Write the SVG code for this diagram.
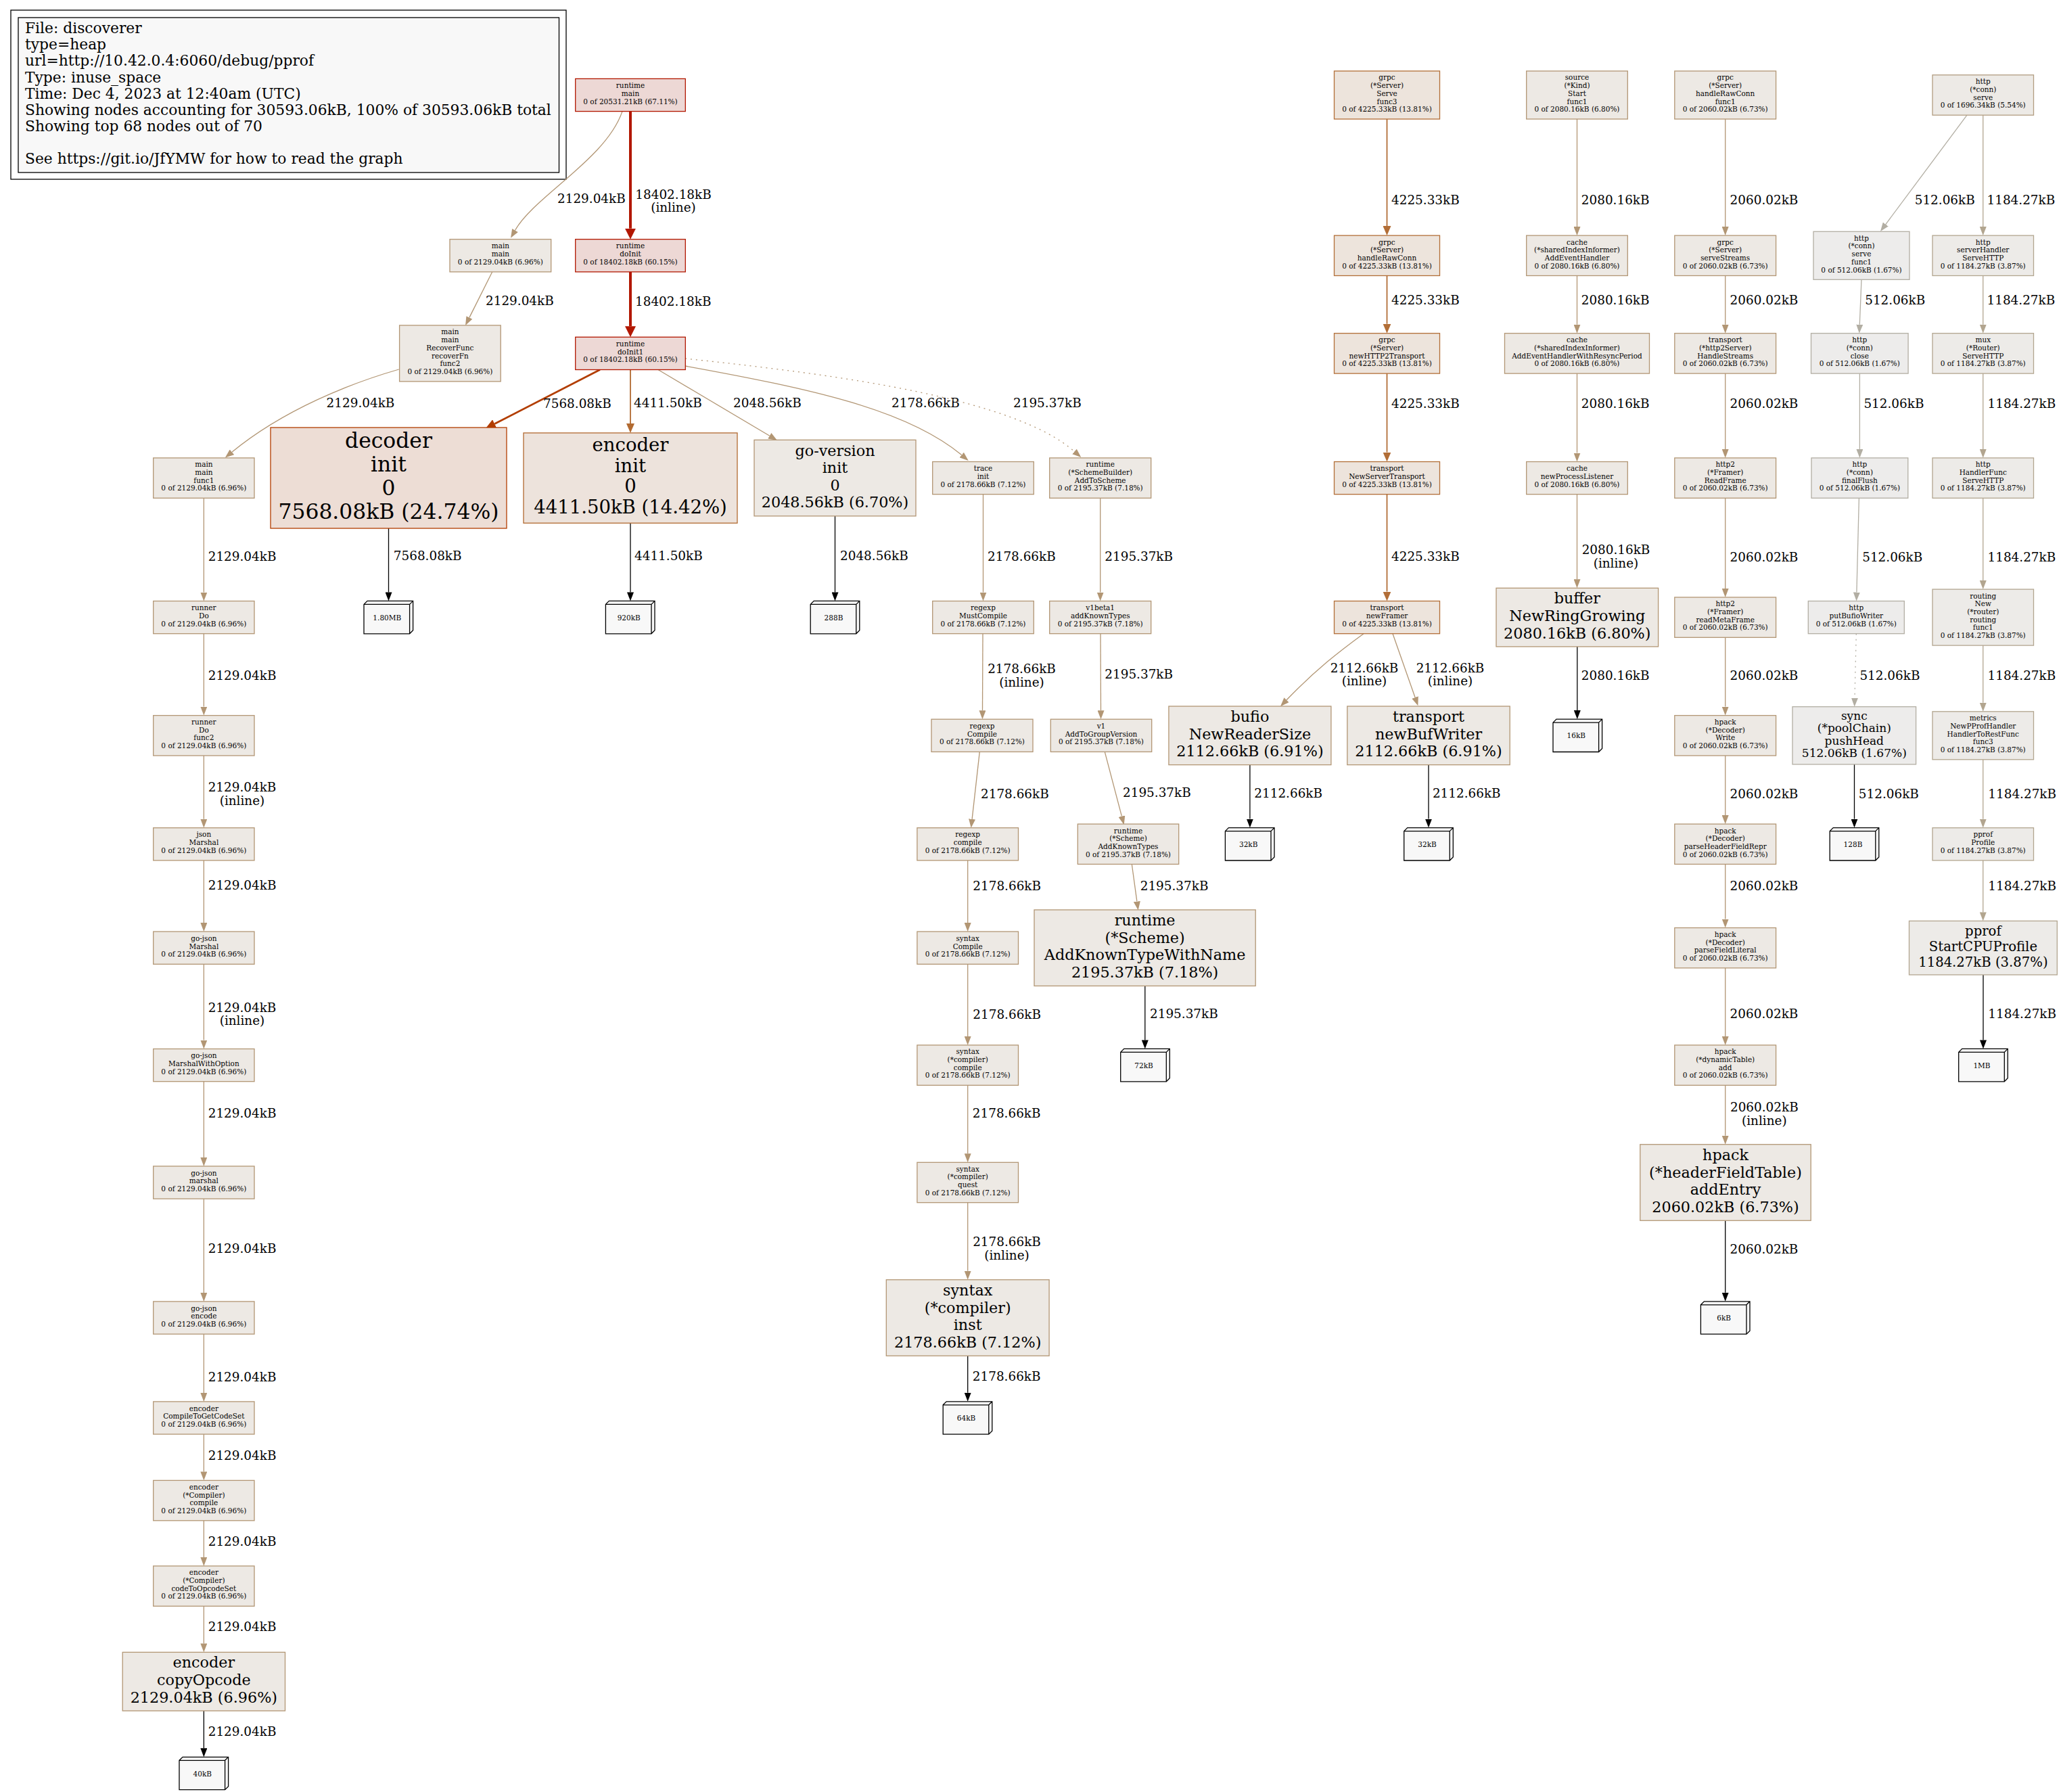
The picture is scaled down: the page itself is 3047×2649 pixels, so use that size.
<svg xmlns="http://www.w3.org/2000/svg" width="3047" height="2649" viewBox="0 0 3047 2649">
<style>
text{font-family:"DejaVu Serif",serif;fill:#000}
.s{font-size:10.5px;text-anchor:middle}
.e{font-size:18.4px}
.em{font-size:18.4px;text-anchor:middle}
.lg{font-size:21.8px}
.b1{font-size:31.4px;text-anchor:middle}
.b2{font-size:27.5px;text-anchor:middle}
.b3{font-size:22.3px;text-anchor:middle}
.b4{font-size:19.65px;text-anchor:middle}
.b5{font-size:17px;text-anchor:middle}
rect,.k{stroke-width:1.3}
.r{fill:#edd8d5;stroke:#b21700}
.d{fill:#edddd5;stroke:#b23d00}
.o{fill:#ede3dc;stroke:#b26a31}
.g{fill:#ede4dc;stroke:#b26e37}
.t{fill:#ede9e4;stroke:#b29674}
.h{fill:#edeae6;stroke:#b29d81}
.l{fill:#edebe8;stroke:#b2a58f}
.y{fill:#edeceb;stroke:#b2aea3}
.k{fill:#f8f8f8;stroke:#000}
#edges path{fill:none}
.cR{stroke:#b21700;stroke-width:4;marker-end:url(#aR)}
.cD{stroke:#b23d00;stroke-width:2.7;marker-end:url(#aD)}
.cO{stroke:#b26a31;stroke-width:1.8;marker-end:url(#aO)}
.cG{stroke:#b26e37;stroke-width:1.8;marker-end:url(#aG)}
.cT{stroke:#b29674;stroke-width:1.3;marker-end:url(#aT)}
.cL{stroke:#b2a58f;stroke-width:1.3;marker-end:url(#aL)}
.cY{stroke:#b2aea3;stroke-width:1.3;marker-end:url(#aY)}
.cK{stroke:#000;stroke-width:1.3;marker-end:url(#aK)}
.dot{stroke-dasharray:2,6}
</style>
<defs>
<marker id="aR" markerUnits="userSpaceOnUse" viewBox="0 -8 16 16" markerWidth="16" markerHeight="16" refX="0" refY="0" orient="auto"><path d="M0,-8L16,0L0,8Z" fill="#b21700"/></marker>
<marker id="aD" markerUnits="userSpaceOnUse" viewBox="0 -7 15 14" markerWidth="15" markerHeight="14" refX="0" refY="0" orient="auto"><path d="M0,-7L15,0L0,7Z" fill="#b23d00"/></marker>
<marker id="aO" markerUnits="userSpaceOnUse" viewBox="0 -6 14 12" markerWidth="14" markerHeight="12" refX="0" refY="0" orient="auto"><path d="M0,-6L14,0L0,6Z" fill="#b26a31"/></marker>
<marker id="aG" markerUnits="userSpaceOnUse" viewBox="0 -6 14 12" markerWidth="14" markerHeight="12" refX="0" refY="0" orient="auto"><path d="M0,-6L14,0L0,6Z" fill="#b26e37"/></marker>
<marker id="aT" markerUnits="userSpaceOnUse" viewBox="0 -5 13 10" markerWidth="13" markerHeight="10" refX="0" refY="0" orient="auto"><path d="M0,-5L13,0L0,5Z" fill="#b29674"/></marker>
<marker id="aL" markerUnits="userSpaceOnUse" viewBox="0 -5 13 10" markerWidth="13" markerHeight="10" refX="0" refY="0" orient="auto"><path d="M0,-5L13,0L0,5Z" fill="#b2a58f"/></marker>
<marker id="aY" markerUnits="userSpaceOnUse" viewBox="0 -5 13 10" markerWidth="13" markerHeight="10" refX="0" refY="0" orient="auto"><path d="M0,-5L13,0L0,5Z" fill="#b2aea3"/></marker>
<marker id="aK" markerUnits="userSpaceOnUse" viewBox="0 -5 13 10" markerWidth="13" markerHeight="10" refX="0" refY="0" orient="auto"><path d="M0,-5L13,0L0,5Z" fill="#000"/></marker>
</defs>
<rect x="0" y="0" width="3047" height="2649" fill="#fff" stroke="none"/>

<g id="legend">
<rect x="16" y="15" width="821" height="250" fill="#fff" stroke="#000"/>
<rect x="27" y="26" width="799.5" height="229" fill="#f8f8f8" stroke="#000"/>
<text class="lg" x="37" y="49.3">File: discoverer</text>
<text class="lg" x="37" y="73.3">type=heap</text>
<text class="lg" x="37" y="97.4">url=http://10.42.0.4:6060/debug/pprof</text>
<text class="lg" x="37" y="121.5">Type: inuse_space</text>
<text class="lg" x="37" y="145.6">Time: Dec 4, 2023 at 12:40am (UTC)</text>
<text class="lg" x="37" y="169.7">Showing nodes accounting for 30593.06kB, 100% of 30593.06kB total</text>
<text class="lg" x="37" y="193.8">Showing top 68 nodes out of 70</text>
<text class="lg" x="37" y="242">See https://git.io/JfYMW for how to read the graph</text>
</g>

<g id="edges">
<g><path class="cR" d="M932,164.6L932,337.7"/><text class="em" x="995.5" y="294.3">18402.18kB</text><text class="em" x="995.5" y="313.3">(inline)</text></g>
<g><path class="cR" d="M932,401.9L932,482.3"/><text class="e" x="939" y="451.7">18402.18kB</text></g>
<g><path class="cD" d="M887,546.5L731.3,626.5"/><text class="e" x="803" y="603">7568.08kB</text></g>
<g><path class="cO" d="M932,546.5L932,626"/><text class="e" x="937" y="602">4411.50kB</text></g>
<g><path class="cT" d="M973,546.5L1137.8,644.3"/><text class="e" x="1084" y="602">2048.56kB</text></g>
<g><path class="cT" d="M1013,541C1200,575 1340,605 1421.7,672.6"/><text class="e" x="1318" y="602">2178.66kB</text></g>
<g><path class="cT dot" d="M1013,530C1250,555 1500,590 1588.5,667.5"/><text class="e" x="1498" y="602">2195.37kB</text></g>
<g><path class="cT" d="M920,164.6C896,235 790,290 761.5,340.5"/><text class="e" x="824" y="300">2129.04kB</text></g>
<g><path class="cT" d="M727.7,402L693.9,469.4"/><text class="e" x="718" y="451">2129.04kB</text></g>
<g><path class="cT" d="M589.7,546C520,566 420,605 342.9,668.3"/><text class="e" x="482.6" y="601.7">2129.04kB</text></g>

<g><path class="cT" d="M301.35,736.3L301.35,875.5"/><text class="e" x="307.7" y="829">2129.04kB</text></g>
<g><path class="cT" d="M301.35,936.7L301.35,1044.6"/><text class="e" x="307.7" y="1004.9">2129.04kB</text></g>
<g><path class="cT" d="M301.35,1117L301.35,1210.7"/><text class="em" x="358" y="1169.6">2129.04kB</text><text class="em" x="358" y="1189.5">(inline)</text></g>
<g><path class="cT" d="M301.35,1271.9L301.35,1364.1"/><text class="e" x="307.7" y="1315">2129.04kB</text></g>
<g><path class="cT" d="M301.35,1425.3L301.35,1537.5"/><text class="em" x="358" y="1495.5">2129.04kB</text><text class="em" x="358" y="1515.3">(inline)</text></g>
<g><path class="cT" d="M301.35,1598.7L301.35,1710.9"/><text class="e" x="307.7" y="1652.4">2129.04kB</text></g>
<g><path class="cT" d="M301.35,1772.1L301.35,1910.9"/><text class="e" x="307.7" y="1852">2129.04kB</text></g>
<g><path class="cT" d="M301.35,1972.1L301.35,2058.9"/><text class="e" x="307.7" y="2042">2129.04kB</text></g>
<g><path class="cT" d="M301.35,2120.1L301.35,2175.4"/><text class="e" x="307.7" y="2158.3">2129.04kB</text></g>
<g><path class="cT" d="M301.35,2247.8L301.35,2301.9"/><text class="e" x="307.7" y="2285.2">2129.04kB</text></g>
<g><path class="cT" d="M301.35,2374.3L301.35,2429.4"/><text class="e" x="307.7" y="2411.4">2129.04kB</text></g>
<g><path class="cK" d="M301.35,2529L301.35,2584.3"/><text class="e" x="307.7" y="2566.1">2129.04kB</text></g>

<g><path class="cK" d="M574.5,781L574.5,875.4"/><text class="e" x="581.8" y="828.3">7568.08kB</text></g>
<g><path class="cK" d="M932,773.25L932,875.4"/><text class="e" x="938" y="828.3">4411.50kB</text></g>
<g><path class="cK" d="M1234.5,762.85L1234.5,875.4"/><text class="e" x="1242" y="828.3">2048.56kB</text></g>

<g><path class="cT" d="M1453.5,730.7L1453.5,875.5"/><text class="e" x="1460" y="829">2178.66kB</text></g>
<g><path class="cT" d="M1453,936.7L1452.5,1050.2"/><text class="em" x="1510.5" y="994.8">2178.66kB</text><text class="em" x="1510.5" y="1015">(inline)</text></g>
<g><path class="cT" d="M1448.3,1111.4L1437.1,1210.9"/><text class="e" x="1450" y="1179.8">2178.66kB</text></g>
<g><path class="cT" d="M1430.7,1271.9L1430.7,1364.1"/><text class="e" x="1438.3" y="1315.6">2178.66kB</text></g>
<g><path class="cT" d="M1430.7,1425.3L1430.7,1531.9"/><text class="e" x="1438.3" y="1506.3">2178.66kB</text></g>
<g><path class="cT" d="M1430.7,1604.3L1430.7,1705.3"/><text class="e" x="1437.8" y="1651.8">2178.66kB</text></g>
<g><path class="cT" d="M1430.7,1777.7L1430.7,1878.75"/><text class="em" x="1488.5" y="1841.5">2178.66kB</text><text class="em" x="1488.5" y="1861.6">(inline)</text></g>
<g><path class="cK" d="M1430.7,2004.25L1430.7,2058.8"/><text class="e" x="1437.8" y="2041">2178.66kB</text></g>

<g><path class="cT" d="M1626.7,736.3L1626.7,875.5"/><text class="e" x="1633.3" y="829">2195.37kB</text></g>
<g><path class="cT" d="M1627,936.7L1627.5,1050.2"/><text class="e" x="1633.3" y="1003">2195.37kB</text></g>
<g><path class="cT" d="M1633.3,1111.4L1658.4,1206.7"/><text class="e" x="1660" y="1178">2195.37kB</text></g>
<g><path class="cT" d="M1673.3,1277.5L1680.9,1332.7"/><text class="e" x="1685.7" y="1315.6">2195.37kB</text></g>
<g><path class="cK" d="M1692.8,1457.45L1692.8,1537.4"/><text class="e" x="1700" y="1505">2195.37kB</text></g>

<g><path class="cG" d="M2050.5,176L2050.5,334.1"/><text class="e" x="2057" y="301.7">4225.33kB</text></g>
<g><path class="cG" d="M2050.5,407.5L2050.5,478.7"/><text class="e" x="2057" y="450">4225.33kB</text></g>
<g><path class="cG" d="M2050.5,552.1L2050.5,668.5"/><text class="e" x="2057" y="602.8">4225.33kB</text></g>
<g><path class="cG" d="M2050.5,730.7L2050.5,874.5"/><text class="e" x="2057" y="829">4225.33kB</text></g>
<g><path class="cT" d="M2016,936.7C1980,963 1945,990 1902,1034.8"/><text class="em" x="2017" y="994.3">2112.66kB</text><text class="em" x="2017" y="1013.3">(inline)</text></g>
<g><path class="cT" d="M2059,936.7L2092.1,1031"/><text class="em" x="2144" y="994.3">2112.66kB</text><text class="em" x="2144" y="1013.3">(inline)</text></g>
<g><path class="cK" d="M1847.9,1130.6L1847.9,1210.6"/><text class="e" x="1854.3" y="1179">2112.66kB</text></g>
<g><path class="cK" d="M2112,1130.6L2112,1210.6"/><text class="e" x="2117.9" y="1179">2112.66kB</text></g>

<g><path class="cT" d="M2331.5,176L2331.5,335.1"/><text class="e" x="2337.8" y="301.7">2080.16kB</text></g>
<g><path class="cT" d="M2331.5,407.5L2331.5,479.7"/><text class="e" x="2337.8" y="450">2080.16kB</text></g>
<g><path class="cT" d="M2331.5,552.1L2331.5,669.5"/><text class="e" x="2337.8" y="602.8">2080.16kB</text></g>
<g><path class="cT" d="M2331.5,730.7L2331.5,856.3"/><text class="em" x="2389" y="819.3">2080.16kB</text><text class="em" x="2389" y="839.4">(inline)</text></g>
<g><path class="cK" d="M2331.8,955.9L2331.8,1050.1"/><text class="e" x="2337.8" y="1004.5">2080.16kB</text></g>

<g><path class="cT" d="M2550.7,176L2550.7,335.1"/><text class="e" x="2557.6" y="301.7">2060.02kB</text></g>
<g><path class="cT" d="M2550.7,407.5L2550.7,479.7"/><text class="e" x="2557.6" y="450">2060.02kB</text></g>
<g><path class="cT" d="M2550.7,552.1L2550.7,663.9"/><text class="e" x="2557.6" y="602.8">2060.02kB</text></g>
<g><path class="cT" d="M2550.7,736.3L2550.7,869.9"/><text class="e" x="2557.6" y="830.4">2060.02kB</text></g>
<g><path class="cT" d="M2550.7,942.3L2550.7,1044.6"/><text class="e" x="2557.6" y="1004.5">2060.02kB</text></g>
<g><path class="cT" d="M2550.7,1117L2550.7,1205.1"/><text class="e" x="2557.6" y="1179.6">2060.02kB</text></g>
<g><path class="cT" d="M2550.7,1277.5L2550.7,1358.5"/><text class="e" x="2557.6" y="1315.6">2060.02kB</text></g>
<g><path class="cT" d="M2550.7,1430.9L2550.7,1531.9"/><text class="e" x="2557.6" y="1505.4">2060.02kB</text></g>
<g><path class="cT" d="M2550.7,1604.3L2550.7,1678.75"/><text class="em" x="2608.3" y="1643.2">2060.02kB</text><text class="em" x="2608.3" y="1663.4">(inline)</text></g>
<g><path class="cK" d="M2550.7,1804.25L2550.7,1910.8"/><text class="e" x="2557.6" y="1853.2">2060.02kB</text></g>

<g><path class="cY" d="M2908,170.2L2787.8,331.6"/><text class="e" x="2830.7" y="301.7">512.06kB</text></g>
<g><path class="cL" d="M2931.75,170.2L2931.75,335.1"/><text class="e" x="2937.5" y="301.7">1184.27kB</text></g>
<g><path class="cY" d="M2752,413.3L2749.3,479.7"/><text class="e" x="2757.2" y="450">512.06kB</text></g>
<g><path class="cL" d="M2931.75,407.5L2931.75,479.7"/><text class="e" x="2937.5" y="450">1184.27kB</text></g>
<g><path class="cY" d="M2749.4,552.1L2749.4,663.9"/><text class="e" x="2755.4" y="602.8">512.06kB</text></g>
<g><path class="cL" d="M2931.75,552.1L2931.75,663.9"/><text class="e" x="2938.5" y="602.8">1184.27kB</text></g>
<g><path class="cY" d="M2748.4,736.3L2744.9,875.5"/><text class="e" x="2753.2" y="830.4">512.06kB</text></g>
<g><path class="cL" d="M2931.75,736.3L2931.75,858.1"/><text class="e" x="2938.5" y="830.4">1184.27kB</text></g>
<g><path class="cY dot" d="M2744.3,936.7L2742,1031.7"/><text class="e" x="2749.4" y="1004.5">512.06kB</text></g>
<g><path class="cL" d="M2931.75,954.1L2931.75,1038.8"/><text class="e" x="2938.5" y="1004.5">1184.27kB</text></g>
<g><path class="cK" d="M2741.5,1129.9L2741.5,1210.6"/><text class="e" x="2747.8" y="1179.6">512.06kB</text></g>
<g><path class="cL" d="M2931.75,1122.8L2931.75,1210.7"/><text class="e" x="2939.3" y="1179.6">1184.27kB</text></g>
<g><path class="cL" d="M2931.75,1271.9L2931.75,1348.4"/><text class="e" x="2939.3" y="1315.6">1184.27kB</text></g>
<g><path class="cK" d="M2932,1441L2932,1537.4"/><text class="e" x="2939.3" y="1505.4">1184.27kB</text></g>
</g>

<g id="n1"><rect class="r" x="850.7" y="116.4" width="162.6" height="48.2"/><text class="s" x="932" y="130.1">runtime<tspan x="932" dy="11.7">main</tspan><tspan x="932" dy="11.7">0 of 20531.21kB (67.11%)</tspan></text></g>
<g id="n2"><rect class="r" x="850.7" y="353.7" width="162.6" height="48.2"/><text class="s" x="932" y="367.4">runtime<tspan x="932" dy="11.7">doInit</tspan><tspan x="932" dy="11.7">0 of 18402.18kB (60.15%)</tspan></text></g>
<g id="n3"><rect class="r" x="850.7" y="498.3" width="162.6" height="48.2"/><text class="s" x="932" y="512">runtime<tspan x="932" dy="11.7">doInit1</tspan><tspan x="932" dy="11.7">0 of 18402.18kB (60.15%)</tspan></text></g>
<g id="n4"><rect class="t" x="665" y="353.7" width="149.7" height="48.2"/><text class="s" x="739.85" y="367.4">main<tspan x="739.85" dy="11.7">main</tspan><tspan x="739.85" dy="11.7">0 of 2129.04kB (6.96%)</tspan></text></g>
<g id="n5"><rect class="t" x="590.6" y="480.9" width="149.6" height="83"/><text class="s" x="665.4" y="494.45">main<tspan x="665.4" dy="11.7">main</tspan><tspan x="665.4" dy="11.7">RecoverFunc</tspan><tspan x="665.4" dy="11.7">recoverFn</tspan><tspan x="665.4" dy="11.7">func2</tspan><tspan x="665.4" dy="11.7">0 of 2129.04kB (6.96%)</tspan></text></g>
<g id="n6"><rect class="t" x="226.7" y="676.9" width="149.3" height="59.4"/><text class="s" x="301.35" y="690.35">main<tspan x="301.35" dy="11.7">main</tspan><tspan x="301.35" dy="11.7">func1</tspan><tspan x="301.35" dy="11.7">0 of 2129.04kB (6.96%)</tspan></text></g>
<g id="n7"><rect class="t" x="226.7" y="888.5" width="149.3" height="48.2"/><text class="s" x="301.35" y="902.2">runner<tspan x="301.35" dy="11.7">Do</tspan><tspan x="301.35" dy="11.7">0 of 2129.04kB (6.96%)</tspan></text></g>
<g id="n8"><rect class="t" x="226.7" y="1057.6" width="149.3" height="59.4"/><text class="s" x="301.35" y="1071.05">runner<tspan x="301.35" dy="11.7">Do</tspan><tspan x="301.35" dy="11.7">func2</tspan><tspan x="301.35" dy="11.7">0 of 2129.04kB (6.96%)</tspan></text></g>
<g id="n9"><rect class="t" x="226.7" y="1223.7" width="149.3" height="48.2"/><text class="s" x="301.35" y="1237.4">json<tspan x="301.35" dy="11.7">Marshal</tspan><tspan x="301.35" dy="11.7">0 of 2129.04kB (6.96%)</tspan></text></g>
<g id="n10"><rect class="t" x="226.7" y="1377.1" width="149.3" height="48.2"/><text class="s" x="301.35" y="1390.8">go-json<tspan x="301.35" dy="11.7">Marshal</tspan><tspan x="301.35" dy="11.7">0 of 2129.04kB (6.96%)</tspan></text></g>
<g id="n11"><rect class="t" x="226.7" y="1550.5" width="149.3" height="48.2"/><text class="s" x="301.35" y="1564.2">go-json<tspan x="301.35" dy="11.7">MarshalWithOption</tspan><tspan x="301.35" dy="11.7">0 of 2129.04kB (6.96%)</tspan></text></g>
<g id="n12"><rect class="t" x="226.7" y="1723.9" width="149.3" height="48.2"/><text class="s" x="301.35" y="1737.6">go-json<tspan x="301.35" dy="11.7">marshal</tspan><tspan x="301.35" dy="11.7">0 of 2129.04kB (6.96%)</tspan></text></g>
<g id="n13"><rect class="t" x="226.7" y="1923.9" width="149.3" height="48.2"/><text class="s" x="301.35" y="1937.6">go-json<tspan x="301.35" dy="11.7">encode</tspan><tspan x="301.35" dy="11.7">0 of 2129.04kB (6.96%)</tspan></text></g>
<g id="n14"><rect class="t" x="226.7" y="2071.9" width="149.3" height="48.2"/><text class="s" x="301.35" y="2085.6">encoder<tspan x="301.35" dy="11.7">CompileToGetCodeSet</tspan><tspan x="301.35" dy="11.7">0 of 2129.04kB (6.96%)</tspan></text></g>
<g id="n15"><rect class="t" x="226.7" y="2188.4" width="149.3" height="59.4"/><text class="s" x="301.35" y="2201.85">encoder<tspan x="301.35" dy="11.7">(*Compiler)</tspan><tspan x="301.35" dy="11.7">compile</tspan><tspan x="301.35" dy="11.7">0 of 2129.04kB (6.96%)</tspan></text></g>
<g id="n16"><rect class="t" x="226.7" y="2314.9" width="149.3" height="59.4"/><text class="s" x="301.35" y="2328.35">encoder<tspan x="301.35" dy="11.7">(*Compiler)</tspan><tspan x="301.35" dy="11.7">codeToOpcodeSet</tspan><tspan x="301.35" dy="11.7">0 of 2129.04kB (6.96%)</tspan></text></g>
<g id="n17"><rect class="t" x="181.2" y="2442.4" width="240.3" height="86.6"/><text class="b3" x="301.35" y="2465.45">encoder<tspan x="301.35" dy="25.6">copyOpcode</tspan><tspan x="301.35" dy="25.6">2129.04kB (6.96%)</tspan></text></g>
<g id="n18"><rect class="d" x="400" y="632" width="349" height="149"/><text class="b1" x="574.5" y="661.6">decoder<tspan x="574.5" dy="35">init</tspan><tspan x="574.5" dy="35">0</tspan><tspan x="574.5" dy="35">7568.08kB (24.74%)</tspan></text></g>
<g id="n19"><rect class="o" x="774" y="639.95" width="316" height="133.3"/><text class="b2" x="932" y="667.45">encoder<tspan x="932" dy="30.5">init</tspan><tspan x="932" dy="30.5">0</tspan><tspan x="932" dy="30.5">4411.50kB (14.42%)</tspan></text></g>
<g id="n20"><rect class="t" x="1115" y="650.35" width="239" height="112.5"/><text class="b3" x="1234.5" y="673.55">go-version<tspan x="1234.5" dy="25.6">init</tspan><tspan x="1234.5" dy="25.6">0</tspan><tspan x="1234.5" dy="25.6">2048.56kB (6.70%)</tspan></text></g>
<g id="n21"><rect class="t" x="1378.7" y="682.5" width="149.6" height="48.2"/><text class="s" x="1453.5" y="696.2">trace<tspan x="1453.5" dy="11.7">init</tspan><tspan x="1453.5" dy="11.7">0 of 2178.66kB (7.12%)</tspan></text></g>
<g id="n22"><rect class="t" x="1378.7" y="888.5" width="149.6" height="48.2"/><text class="s" x="1453.5" y="902.2">regexp<tspan x="1453.5" dy="11.7">MustCompile</tspan><tspan x="1453.5" dy="11.7">0 of 2178.66kB (7.12%)</tspan></text></g>
<g id="n23"><rect class="t" x="1377" y="1063.2" width="150" height="48.2"/><text class="s" x="1452" y="1076.9">regexp<tspan x="1452" dy="11.7">Compile</tspan><tspan x="1452" dy="11.7">0 of 2178.66kB (7.12%)</tspan></text></g>
<g id="n24"><rect class="t" x="1355.9" y="1223.7" width="149.6" height="48.2"/><text class="s" x="1430.7" y="1237.4">regexp<tspan x="1430.7" dy="11.7">compile</tspan><tspan x="1430.7" dy="11.7">0 of 2178.66kB (7.12%)</tspan></text></g>
<g id="n25"><rect class="t" x="1355.9" y="1377.1" width="149.6" height="48.2"/><text class="s" x="1430.7" y="1390.8">syntax<tspan x="1430.7" dy="11.7">Compile</tspan><tspan x="1430.7" dy="11.7">0 of 2178.66kB (7.12%)</tspan></text></g>
<g id="n26"><rect class="t" x="1355.9" y="1544.9" width="149.6" height="59.4"/><text class="s" x="1430.7" y="1558.35">syntax<tspan x="1430.7" dy="11.7">(*compiler)</tspan><tspan x="1430.7" dy="11.7">compile</tspan><tspan x="1430.7" dy="11.7">0 of 2178.66kB (7.12%)</tspan></text></g>
<g id="n27"><rect class="t" x="1355.9" y="1718.3" width="149.6" height="59.4"/><text class="s" x="1430.7" y="1731.75">syntax<tspan x="1430.7" dy="11.7">(*compiler)</tspan><tspan x="1430.7" dy="11.7">quest</tspan><tspan x="1430.7" dy="11.7">0 of 2178.66kB (7.12%)</tspan></text></g>
<g id="n28"><rect class="t" x="1310.3" y="1891.75" width="240.8" height="112.5"/><text class="b3" x="1430.7" y="1914.95">syntax<tspan x="1430.7" dy="25.6">(*compiler)</tspan><tspan x="1430.7" dy="25.6">inst</tspan><tspan x="1430.7" dy="25.6">2178.66kB (7.12%)</tspan></text></g>
<g id="n29"><rect class="t" x="1551.7" y="676.9" width="150" height="59.4"/><text class="s" x="1626.7" y="690.35">runtime<tspan x="1626.7" dy="11.7">(*SchemeBuilder)</tspan><tspan x="1626.7" dy="11.7">AddToScheme</tspan><tspan x="1626.7" dy="11.7">0 of 2195.37kB (7.18%)</tspan></text></g>
<g id="n30"><rect class="t" x="1551.7" y="888.5" width="150" height="48.2"/><text class="s" x="1626.7" y="902.2">v1beta1<tspan x="1626.7" dy="11.7">addKnownTypes</tspan><tspan x="1626.7" dy="11.7">0 of 2195.37kB (7.18%)</tspan></text></g>
<g id="n31"><rect class="t" x="1553.3" y="1063.2" width="149.4" height="48.2"/><text class="s" x="1628" y="1076.9">v1<tspan x="1628" dy="11.7">AddToGroupVersion</tspan><tspan x="1628" dy="11.7">0 of 2195.37kB (7.18%)</tspan></text></g>
<g id="n32"><rect class="t" x="1593.3" y="1218.1" width="149.4" height="59.4"/><text class="s" x="1668" y="1231.55">runtime<tspan x="1668" dy="11.7">(*Scheme)</tspan><tspan x="1668" dy="11.7">AddKnownTypes</tspan><tspan x="1668" dy="11.7">0 of 2195.37kB (7.18%)</tspan></text></g>
<g id="n33"><rect class="t" x="1529" y="1344.95" width="327.2" height="112.5"/><text class="b3" x="1692.6" y="1368.15">runtime<tspan x="1692.6" dy="25.6">(*Scheme)</tspan><tspan x="1692.6" dy="25.6">AddKnownTypeWithName</tspan><tspan x="1692.6" dy="25.6">2195.37kB (7.18%)</tspan></text></g>
<g id="n34"><rect class="g" x="1972.5" y="105" width="156" height="71"/><text class="s" x="2050.5" y="118.4">grpc<tspan x="2050.5" dy="11.7">(*Server)</tspan><tspan x="2050.5" dy="11.7">Serve</tspan><tspan x="2050.5" dy="11.7">func3</tspan><tspan x="2050.5" dy="11.7">0 of 4225.33kB (13.81%)</tspan></text></g>
<g id="n35"><rect class="g" x="1972.5" y="348.1" width="156" height="59.4"/><text class="s" x="2050.5" y="361.55">grpc<tspan x="2050.5" dy="11.7">(*Server)</tspan><tspan x="2050.5" dy="11.7">handleRawConn</tspan><tspan x="2050.5" dy="11.7">0 of 4225.33kB (13.81%)</tspan></text></g>
<g id="n36"><rect class="g" x="1972.5" y="492.7" width="156" height="59.4"/><text class="s" x="2050.5" y="506.15">grpc<tspan x="2050.5" dy="11.7">(*Server)</tspan><tspan x="2050.5" dy="11.7">newHTTP2Transport</tspan><tspan x="2050.5" dy="11.7">0 of 4225.33kB (13.81%)</tspan></text></g>
<g id="n37"><rect class="g" x="1972.5" y="682.5" width="156" height="48.2"/><text class="s" x="2050.5" y="696.2">transport<tspan x="2050.5" dy="11.7">NewServerTransport</tspan><tspan x="2050.5" dy="11.7">0 of 4225.33kB (13.81%)</tspan></text></g>
<g id="n38"><rect class="g" x="1972.5" y="888.5" width="156" height="48.2"/><text class="s" x="2050.5" y="902.2">transport<tspan x="2050.5" dy="11.7">newFramer</tspan><tspan x="2050.5" dy="11.7">0 of 4225.33kB (13.81%)</tspan></text></g>
<g id="n39"><rect class="t" x="1727.9" y="1044" width="240" height="86.6"/><text class="b3" x="1847.9" y="1067.05">bufio<tspan x="1847.9" dy="25.6">NewReaderSize</tspan><tspan x="1847.9" dy="25.6">2112.66kB (6.91%)</tspan></text></g>
<g id="n40"><rect class="t" x="1991.8" y="1044" width="240.4" height="86.6"/><text class="b3" x="2112" y="1067.05">transport<tspan x="2112" dy="25.6">newBufWriter</tspan><tspan x="2112" dy="25.6">2112.66kB (6.91%)</tspan></text></g>
<g id="n41"><rect class="t" x="2256.7" y="105" width="149.6" height="71"/><text class="s" x="2331.5" y="118.4">source<tspan x="2331.5" dy="11.7">(*Kind)</tspan><tspan x="2331.5" dy="11.7">Start</tspan><tspan x="2331.5" dy="11.7">func1</tspan><tspan x="2331.5" dy="11.7">0 of 2080.16kB (6.80%)</tspan></text></g>
<g id="n42"><rect class="t" x="2256.7" y="348.1" width="149.6" height="59.4"/><text class="s" x="2331.5" y="361.55">cache<tspan x="2331.5" dy="11.7">(*sharedIndexInformer)</tspan><tspan x="2331.5" dy="11.7">AddEventHandler</tspan><tspan x="2331.5" dy="11.7">0 of 2080.16kB (6.80%)</tspan></text></g>
<g id="n43"><rect class="t" x="2224.5" y="492.7" width="214" height="59.4"/><text class="s" x="2331.5" y="506.15">cache<tspan x="2331.5" dy="11.7">(*sharedIndexInformer)</tspan><tspan x="2331.5" dy="11.7">AddEventHandlerWithResyncPeriod</tspan><tspan x="2331.5" dy="11.7">0 of 2080.16kB (6.80%)</tspan></text></g>
<g id="n44"><rect class="t" x="2256.7" y="682.5" width="149.6" height="48.2"/><text class="s" x="2331.5" y="696.2">cache<tspan x="2331.5" dy="11.7">newProcessListener</tspan><tspan x="2331.5" dy="11.7">0 of 2080.16kB (6.80%)</tspan></text></g>
<g id="n45"><rect class="t" x="2212" y="869.3" width="239.6" height="86.6"/><text class="b3" x="2331.8" y="892.35">buffer<tspan x="2331.8" dy="25.6">NewRingGrowing</tspan><tspan x="2331.8" dy="25.6">2080.16kB (6.80%)</tspan></text></g>
<g id="n46"><rect class="t" x="2475.8" y="105" width="149.8" height="71"/><text class="s" x="2550.7" y="118.4">grpc<tspan x="2550.7" dy="11.7">(*Server)</tspan><tspan x="2550.7" dy="11.7">handleRawConn</tspan><tspan x="2550.7" dy="11.7">func1</tspan><tspan x="2550.7" dy="11.7">0 of 2060.02kB (6.73%)</tspan></text></g>
<g id="n47"><rect class="t" x="2475.8" y="348.1" width="149.8" height="59.4"/><text class="s" x="2550.7" y="361.55">grpc<tspan x="2550.7" dy="11.7">(*Server)</tspan><tspan x="2550.7" dy="11.7">serveStreams</tspan><tspan x="2550.7" dy="11.7">0 of 2060.02kB (6.73%)</tspan></text></g>
<g id="n48"><rect class="t" x="2475.8" y="492.7" width="149.8" height="59.4"/><text class="s" x="2550.7" y="506.15">transport<tspan x="2550.7" dy="11.7">(*http2Server)</tspan><tspan x="2550.7" dy="11.7">HandleStreams</tspan><tspan x="2550.7" dy="11.7">0 of 2060.02kB (6.73%)</tspan></text></g>
<g id="n49"><rect class="t" x="2475.8" y="676.9" width="149.8" height="59.4"/><text class="s" x="2550.7" y="690.35">http2<tspan x="2550.7" dy="11.7">(*Framer)</tspan><tspan x="2550.7" dy="11.7">ReadFrame</tspan><tspan x="2550.7" dy="11.7">0 of 2060.02kB (6.73%)</tspan></text></g>
<g id="n50"><rect class="t" x="2475.8" y="882.9" width="149.8" height="59.4"/><text class="s" x="2550.7" y="896.35">http2<tspan x="2550.7" dy="11.7">(*Framer)</tspan><tspan x="2550.7" dy="11.7">readMetaFrame</tspan><tspan x="2550.7" dy="11.7">0 of 2060.02kB (6.73%)</tspan></text></g>
<g id="n51"><rect class="t" x="2475.8" y="1057.6" width="149.8" height="59.4"/><text class="s" x="2550.7" y="1071.05">hpack<tspan x="2550.7" dy="11.7">(*Decoder)</tspan><tspan x="2550.7" dy="11.7">Write</tspan><tspan x="2550.7" dy="11.7">0 of 2060.02kB (6.73%)</tspan></text></g>
<g id="n52"><rect class="t" x="2475.8" y="1218.1" width="149.8" height="59.4"/><text class="s" x="2550.7" y="1231.55">hpack<tspan x="2550.7" dy="11.7">(*Decoder)</tspan><tspan x="2550.7" dy="11.7">parseHeaderFieldRepr</tspan><tspan x="2550.7" dy="11.7">0 of 2060.02kB (6.73%)</tspan></text></g>
<g id="n53"><rect class="t" x="2475.8" y="1371.5" width="149.8" height="59.4"/><text class="s" x="2550.7" y="1384.95">hpack<tspan x="2550.7" dy="11.7">(*Decoder)</tspan><tspan x="2550.7" dy="11.7">parseFieldLiteral</tspan><tspan x="2550.7" dy="11.7">0 of 2060.02kB (6.73%)</tspan></text></g>
<g id="n54"><rect class="t" x="2475.8" y="1544.9" width="149.8" height="59.4"/><text class="s" x="2550.7" y="1558.35">hpack<tspan x="2550.7" dy="11.7">(*dynamicTable)</tspan><tspan x="2550.7" dy="11.7">add</tspan><tspan x="2550.7" dy="11.7">0 of 2060.02kB (6.73%)</tspan></text></g>
<g id="n55"><rect class="t" x="2424.8" y="1691.75" width="252.4" height="112.5"/><text class="b3" x="2551" y="1714.95">hpack<tspan x="2551" dy="25.6">(*headerFieldTable)</tspan><tspan x="2551" dy="25.6">addEntry</tspan><tspan x="2551" dy="25.6">2060.02kB (6.73%)</tspan></text></g>
<g id="n56"><rect class="h" x="2857" y="110.8" width="149.5" height="59.4"/><text class="s" x="2931.75" y="124.25">http<tspan x="2931.75" dy="11.7">(*conn)</tspan><tspan x="2931.75" dy="11.7">serve</tspan><tspan x="2931.75" dy="11.7">0 of 1696.34kB (5.54%)</tspan></text></g>
<g id="n57"><rect class="y" x="2681" y="342.3" width="142" height="71"/><text class="s" x="2752" y="355.7">http<tspan x="2752" dy="11.7">(*conn)</tspan><tspan x="2752" dy="11.7">serve</tspan><tspan x="2752" dy="11.7">func1</tspan><tspan x="2752" dy="11.7">0 of 512.06kB (1.67%)</tspan></text></g>
<g id="n58"><rect class="l" x="2857" y="348.1" width="149.5" height="59.4"/><text class="s" x="2931.75" y="361.55">http<tspan x="2931.75" dy="11.7">serverHandler</tspan><tspan x="2931.75" dy="11.7">ServeHTTP</tspan><tspan x="2931.75" dy="11.7">0 of 1184.27kB (3.87%)</tspan></text></g>
<g id="n59"><rect class="y" x="2677.5" y="492.7" width="143.6" height="59.4"/><text class="s" x="2749.3" y="506.15">http<tspan x="2749.3" dy="11.7">(*conn)</tspan><tspan x="2749.3" dy="11.7">close</tspan><tspan x="2749.3" dy="11.7">0 of 512.06kB (1.67%)</tspan></text></g>
<g id="n60"><rect class="l" x="2857" y="492.7" width="149.5" height="59.4"/><text class="s" x="2931.75" y="506.15">mux<tspan x="2931.75" dy="11.7">(*Router)</tspan><tspan x="2931.75" dy="11.7">ServeHTTP</tspan><tspan x="2931.75" dy="11.7">0 of 1184.27kB (3.87%)</tspan></text></g>
<g id="n61"><rect class="y" x="2678" y="676.9" width="142.8" height="59.4"/><text class="s" x="2749.4" y="690.35">http<tspan x="2749.4" dy="11.7">(*conn)</tspan><tspan x="2749.4" dy="11.7">finalFlush</tspan><tspan x="2749.4" dy="11.7">0 of 512.06kB (1.67%)</tspan></text></g>
<g id="n62"><rect class="l" x="2857" y="676.9" width="149.5" height="59.4"/><text class="s" x="2931.75" y="690.35">http<tspan x="2931.75" dy="11.7">HandlerFunc</tspan><tspan x="2931.75" dy="11.7">ServeHTTP</tspan><tspan x="2931.75" dy="11.7">0 of 1184.27kB (3.87%)</tspan></text></g>
<g id="n63"><rect class="y" x="2673.3" y="888.5" width="142" height="48.2"/><text class="s" x="2744.3" y="902.2">http<tspan x="2744.3" dy="11.7">putBufioWriter</tspan><tspan x="2744.3" dy="11.7">0 of 512.06kB (1.67%)</tspan></text></g>
<g id="n64"><rect class="l" x="2857" y="871.1" width="149.5" height="83"/><text class="s" x="2931.75" y="884.65">routing<tspan x="2931.75" dy="11.7">New</tspan><tspan x="2931.75" dy="11.7">(*router)</tspan><tspan x="2931.75" dy="11.7">routing</tspan><tspan x="2931.75" dy="11.7">func1</tspan><tspan x="2931.75" dy="11.7">0 of 1184.27kB (3.87%)</tspan></text></g>
<g id="n65"><rect class="y" x="2650" y="1044.7" width="182.6" height="85.2"/><text class="b5" x="2741.3" y="1064.1">sync<tspan x="2741.3" dy="18.2">(*poolChain)</tspan><tspan x="2741.3" dy="18.2">pushHead</tspan><tspan x="2741.3" dy="18.2">512.06kB (1.67%)</tspan></text></g>
<g id="n66"><rect class="l" x="2857" y="1051.8" width="149.5" height="71"/><text class="s" x="2931.75" y="1065.2">metrics<tspan x="2931.75" dy="11.7">NewPProfHandler</tspan><tspan x="2931.75" dy="11.7">HandlerToRestFunc</tspan><tspan x="2931.75" dy="11.7">func3</tspan><tspan x="2931.75" dy="11.7">0 of 1184.27kB (3.87%)</tspan></text></g>
<g id="n67"><rect class="l" x="2857" y="1223.7" width="149.5" height="48.2"/><text class="s" x="2931.75" y="1237.4">pprof<tspan x="2931.75" dy="11.7">Profile</tspan><tspan x="2931.75" dy="11.7">0 of 1184.27kB (3.87%)</tspan></text></g>
<g id="n68"><rect class="l" x="2822.5" y="1361.4" width="218.8" height="79.6"/><text class="b4" x="2931.9" y="1382.9">pprof<tspan x="2931.9" dy="23">StartCPUProfile</tspan><tspan x="2931.9" dy="23">1184.27kB (3.87%)</tspan></text></g>

<g id="leaf1"><path class="k" d="M538,893.4L543,888.4L610.6,888.4L610.6,931.8L605.6,936.8L538,936.8ZM605.6,893.4L538,893.4M605.6,893.4L605.6,936.8M605.6,893.4L610.6,888.4"/><text class="s" x="572.3" y="916.6">1.80MB</text></g>
<g id="leaf2"><path class="k" d="M895.4,893.4L900.4,888.4L968,888.4L968,931.8L963,936.8L895.4,936.8ZM963,893.4L895.4,893.4M963,893.4L963,936.8M963,893.4L968,888.4"/><text class="s" x="929.7" y="916.6">920kB</text></g>
<g id="leaf3"><path class="k" d="M1198.2,893.4L1203.2,888.4L1270.8,888.4L1270.8,931.8L1265.8,936.8L1198.2,936.8ZM1265.8,893.4L1198.2,893.4M1265.8,893.4L1265.8,936.8M1265.8,893.4L1270.8,888.4"/><text class="s" x="1232.5" y="916.6">288B</text></g>
<g id="leaf4"><path class="k" d="M1394.2,2076.8L1399.2,2071.8L1466.8,2071.8L1466.8,2115.2L1461.8,2120.2L1394.2,2120.2ZM1461.8,2076.8L1394.2,2076.8M1461.8,2076.8L1461.8,2120.2M1461.8,2076.8L1466.8,2071.8"/><text class="s" x="1428.5" y="2100">64kB</text></g>
<g id="leaf5"><path class="k" d="M1656.7,1555.4L1661.7,1550.4L1729.3,1550.4L1729.3,1593.8L1724.3,1598.8L1656.7,1598.8ZM1724.3,1555.4L1656.7,1555.4M1724.3,1555.4L1724.3,1598.8M1724.3,1555.4L1729.3,1550.4"/><text class="s" x="1691" y="1578.6">72kB</text></g>
<g id="leaf6"><path class="k" d="M1811.4,1228.6L1816.4,1223.6L1884,1223.6L1884,1267L1879,1272L1811.4,1272ZM1879,1228.6L1811.4,1228.6M1879,1228.6L1879,1272M1879,1228.6L1884,1223.6"/><text class="s" x="1845.7" y="1251.8">32kB</text></g>
<g id="leaf7"><path class="k" d="M2075.7,1228.6L2080.7,1223.6L2148.3,1223.6L2148.3,1267L2143.3,1272L2075.7,1272ZM2143.3,1228.6L2075.7,1228.6M2143.3,1228.6L2143.3,1272M2143.3,1228.6L2148.3,1223.6"/><text class="s" x="2110" y="1251.8">32kB</text></g>
<g id="leaf8"><path class="k" d="M2296,1068.1L2301,1063.1L2368.6,1063.1L2368.6,1106.5L2363.6,1111.5L2296,1111.5ZM2363.6,1068.1L2296,1068.1M2363.6,1068.1L2363.6,1111.5M2363.6,1068.1L2368.6,1063.1"/><text class="s" x="2330.3" y="1091.3">16kB</text></g>
<g id="leaf9"><path class="k" d="M2705.2,1228.6L2710.2,1223.6L2777.8,1223.6L2777.8,1267L2772.8,1272L2705.2,1272ZM2772.8,1228.6L2705.2,1228.6M2772.8,1228.6L2772.8,1272M2772.8,1228.6L2777.8,1223.6"/><text class="s" x="2739.5" y="1251.8">128B</text></g>
<g id="leaf10"><path class="k" d="M2895.7,1555.4L2900.7,1550.4L2968.3,1550.4L2968.3,1593.8L2963.3,1598.8L2895.7,1598.8ZM2963.3,1555.4L2895.7,1555.4M2963.3,1555.4L2963.3,1598.8M2963.3,1555.4L2968.3,1550.4"/><text class="s" x="2930" y="1578.6">1MB</text></g>
<g id="leaf11"><path class="k" d="M2514.4,1928.8L2519.4,1923.8L2587,1923.8L2587,1967.2L2582,1972.2L2514.4,1972.2ZM2582,1928.8L2514.4,1928.8M2582,1928.8L2582,1972.2M2582,1928.8L2587,1923.8"/><text class="s" x="2548.7" y="1952">6kB</text></g>
<g id="leaf12"><path class="k" d="M265,2602.3L270,2597.3L337.6,2597.3L337.6,2640.7L332.6,2645.7L265,2645.7ZM332.6,2602.3L265,2602.3M332.6,2602.3L332.6,2645.7M332.6,2602.3L337.6,2597.3"/><text class="s" x="299.3" y="2625.5">40kB</text></g>
</svg>
